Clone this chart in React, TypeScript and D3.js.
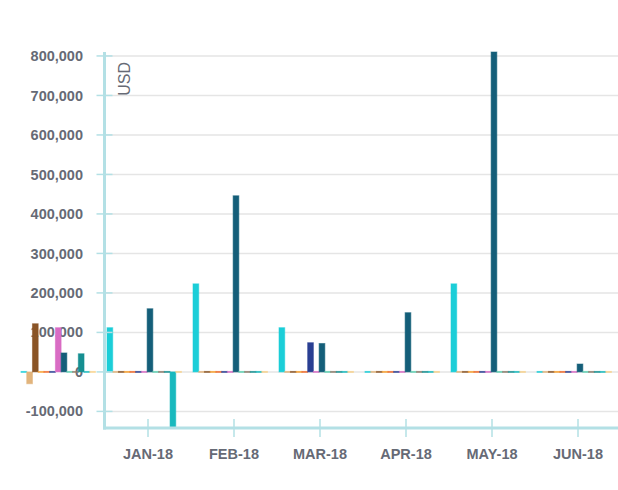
import React, { useEffect, useRef } from "react";
import * as d3 from "d3";

const W = 618;
const H = 490;

// months on the x axis (DEC-17 sits left of the plot, no tick for it)
const months = ["DEC-17", "JAN-18", "FEB-18", "MAR-18", "APR-18", "MAY-18", "JUN-18"];
const tickMonths = ["JAN-18", "FEB-18", "MAR-18", "APR-18", "MAY-18", "JUN-18"];

const seriesNames = [
  "Series 1", "Series 2", "Series 3", "Series 4", "Series 5", "Series 6", "Series 7",
  "Series 8", "Series 9", "Series 10", "Series 11", "Series 12", "Series 13",
];
const seriesColors = [
  "#1bced8", "#e2b47c", "#8a5426", "#f7a030", "#ee6a2b", "#2a3f93", "#d96cc4",
  "#145e79", "#5fcfb1", "#8c7b6b", "#168f91", "#19b9be", "#f7d28d",
];

// values per series, one per month
const series1 = [0, 112000, 223000, 112000, 0, 223000, 0];
const series2 = [-30000, 0, 0, 0, 0, 0, 0];
const series3 = [122000, 0, 0, 0, 0, 0, 0];
const series4 = [0, 0, 0, 0, 0, 0, 0];
const series5 = [0, 0, 0, 0, 0, 0, 0];
const series6 = [0, 0, 0, 74000, 0, 0, 0];
const series7 = [112000, 0, 0, 0, 0, 0, 0];
const series8 = [48000, 160000, 446000, 72000, 150000, 810000, 20000];
const series9 = [0, 0, 0, 0, 0, 0, 0];
const series10 = [0, 0, 0, 0, 0, 0, 0];
const series11 = [46000, 0, 0, 0, 0, 0, 0];
const series12 = [0, -142000, 0, 0, 0, 0, 0];
const series13 = [0, 0, 0, 0, 0, 0, 0];

const seriesValues = [
  series1, series2, series3, series4, series5, series6, series7,
  series8, series9, series10, series11, series12, series13,
];

const axisColor = "#b3e0e5";
const labelColor = "#666a75";
const fmt = d3.formatLocale({
  decimal: ".", thousands: ",", grouping: [3], currency: ["$", ""], minus: "-",
}).format(",");

function BarChart() {
  const svgRef = useRef<SVGSVGElement>(null);

  useEffect(() => {
    const svg = d3.select(svgRef.current);
    svg.selectAll("*").remove();

    const all = seriesValues.flat();
    const y = d3.scaleLinear()
      .domain([d3.min(all) as number, d3.max(all) as number])
      .range([428, 52]);
    const x = d3.scalePoint<string>().domain(months).range([62, 578]);
    const inner = d3.scaleBand<string>().domain(seriesNames).range([-41, 33.5]);

    const left = 104.5;
    const bottom = 428;

    // grid
    svg.append("g")
      .selectAll("line")
      .data(y.ticks(10))
      .join("line")
      .attr("x1", left)
      .attr("x2", W)
      .attr("y1", d => y(d))
      .attr("y2", d => y(d))
      .attr("stroke", "#e5e5e5")
      .attr("stroke-width", 1.5);

    // y tick labels
    svg.append("g")
      .selectAll("text")
      .data(y.ticks(10))
      .join("text")
      .attr("x", 83)
      .attr("y", d => y(d))
      .attr("dy", "0.35em")
      .attr("text-anchor", "end")
      .attr("font-family", "'Liberation Sans', Arial, sans-serif")
      .attr("font-weight", "bold")
      .attr("font-size", "14.5px")
      .attr("fill", labelColor)
      .text(d => fmt(d));

    // x tick labels
    svg.append("g")
      .selectAll("text")
      .data(tickMonths)
      .join("text")
      .attr("x", d => x(d) as number)
      .attr("y", 459)
      .attr("text-anchor", "middle")
      .attr("font-family", "'Liberation Sans', Arial, sans-serif")
      .attr("font-weight", "bold")
      .attr("font-size", "14.5px")
      .attr("fill", labelColor)
      .text(d => d);

    // bars
    const y0 = y(0);
    seriesValues.forEach((vals, si) => {
      svg.append("g")
        .selectAll("rect")
        .data(vals)
        .join("rect")
        .attr("x", (_, i) => (x(months[i]) as number) + (inner(seriesNames[si]) as number))
        .attr("width", inner.bandwidth())
        .attr("y", d => (d > 0 ? y(d) : d < 0 ? y0 : y0 - 0.5))
        .attr("height", d => Math.max(Math.abs(y(d) - y0), 1))
        .attr("fill", seriesColors[si])
        .attr("stroke", seriesColors[si])
        .attr("stroke-opacity", 0.55)
        .attr("stroke-width", 1);
    });

    // axes
    svg.append("line")
      .attr("x1", left).attr("x2", left)
      .attr("y1", y.range()[1]).attr("y2", bottom + 1.5)
      .attr("stroke", axisColor).attr("stroke-width", 3);
    svg.append("line")
      .attr("x1", left - 1.5).attr("x2", W)
      .attr("y1", bottom).attr("y2", bottom)
      .attr("stroke", axisColor).attr("stroke-width", 3);

    svg.append("g")
      .selectAll("line")
      .data(y.ticks(10))
      .join("line")
      .attr("x1", left - 8)
      .attr("x2", left + 8)
      .attr("y1", d => y(d))
      .attr("y2", d => y(d))
      .attr("stroke", axisColor)
      .attr("stroke-width", 1.5);

    svg.append("g")
      .selectAll("line")
      .data(tickMonths)
      .join("line")
      .attr("x1", d => x(d) as number)
      .attr("x2", d => x(d) as number)
      .attr("y1", bottom - 9)
      .attr("y2", bottom + 9)
      .attr("stroke", axisColor)
      .attr("stroke-width", 1.5);

    // unit label
    svg.append("text")
      .attr("transform", "translate(130,62) rotate(-90)")
      .attr("text-anchor", "end")
      .attr("font-family", "'Liberation Sans', Arial, sans-serif")
      .attr("font-size", "16px")
      .attr("fill", labelColor)
      .text("USD");
  }, []);

  return (
    <svg
      ref={svgRef}
      width={W}
      height={H}
      style={{ position: "absolute", left: 0, top: 0, background: "#fff" }}
    />
  );
}

export default function App() {
  return <BarChart />;
}
